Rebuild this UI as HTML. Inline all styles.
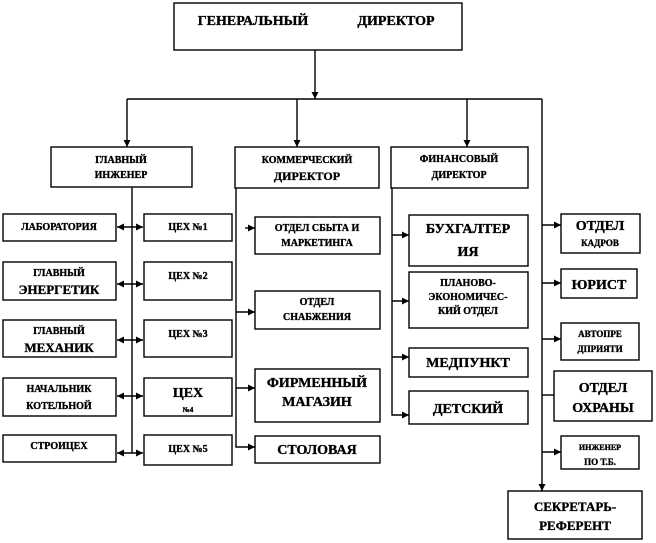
<!DOCTYPE html>
<html><head><meta charset="utf-8"><style>
body{margin:0;background:#fff}
svg{display:block}
text{font-family:"Liberation Serif","DejaVu Serif",serif;font-weight:bold;fill:#000;stroke:#000;stroke-width:0.35;text-anchor:middle}
rect{fill:#fff;stroke:#000;stroke-width:1.4}
line,polyline{stroke:#000;stroke-width:1.4;fill:none}
</style></head><body>
<svg width="656" height="543" viewBox="0 0 656 543" xmlns="http://www.w3.org/2000/svg">
<defs>
<marker id="a" viewBox="0 0 10 10" refX="10" refY="5" markerWidth="7" markerHeight="7" orient="auto-start-reverse" markerUnits="userSpaceOnUse"><path d="M0,0 L10,5 L0,10 z" fill="#000"/></marker>
</defs>
<rect x="174" y="3" width="288" height="47"/>
<text x="253" y="25" font-size="14">ГЕНЕРАЛЬНЫЙ</text>
<text x="396" y="25" font-size="14">ДИРЕКТОР</text>
<line x1="315" y1="50" x2="315" y2="99" marker-end="url(#a)"/>
<line x1="127" y1="99" x2="542" y2="99"/>
<line x1="127" y1="99" x2="127" y2="147" marker-end="url(#a)"/>
<line x1="297" y1="99" x2="297" y2="147" marker-end="url(#a)"/>
<line x1="467" y1="99" x2="467" y2="147" marker-end="url(#a)"/>
<line x1="542" y1="99" x2="542" y2="491" marker-end="url(#a)"/>

<rect x="51" y="147" width="141" height="40"/>
<text x="121" y="163" font-size="10">ГЛАВНЫЙ</text>
<text x="121" y="178" font-size="10">ИНЖЕНЕР</text>
<line x1="132" y1="187" x2="132" y2="453"/>
<rect x="3" y="214" width="113" height="27"/><text x="59" y="230" font-size="10">ЛАБОРАТОРИЯ</text>
<rect x="3" y="262" width="113" height="38"/><text x="59" y="276" font-size="10">ГЛАВНЫЙ</text><text x="59" y="294" font-size="13">ЭНЕРГЕТИК</text>
<rect x="3" y="320" width="113" height="37"/><text x="59" y="334" font-size="10">ГЛАВНЫЙ</text><text x="59" y="352" font-size="13">МЕХАНИК</text>
<rect x="3" y="378" width="113" height="38"/><text x="59" y="392" font-size="10">НАЧАЛЬНИК</text><text x="59" y="409" font-size="10">КОТЕЛЬНОЙ</text>
<rect x="3" y="435" width="113" height="27"/><text x="59" y="449" font-size="10">СТРОИЦЕХ</text>
<rect x="144" y="214" width="88" height="27"/><text x="188" y="230" font-size="10">ЦЕХ №1</text>
<rect x="144" y="262" width="88" height="38"/><text x="188" y="279" font-size="10">ЦЕХ  №2</text>
<rect x="144" y="320" width="88" height="37"/><text x="188" y="337" font-size="10">ЦЕХ №3</text>
<rect x="144" y="378" width="88" height="38"/><text x="188" y="397" font-size="14">ЦЕХ</text><text x="188" y="412" font-size="7">№4</text>
<rect x="144" y="435" width="88" height="30"/><text x="188" y="452" font-size="10">ЦЕХ  №5</text>
<line x1="117" y1="227" x2="143" y2="227" marker-start="url(#a)" marker-end="url(#a)"/>
<line x1="117" y1="284" x2="143" y2="284" marker-start="url(#a)" marker-end="url(#a)"/>
<line x1="117" y1="340" x2="143" y2="340" marker-start="url(#a)" marker-end="url(#a)"/>
<line x1="117" y1="396" x2="143" y2="396" marker-start="url(#a)" marker-end="url(#a)"/>
<line x1="117" y1="453" x2="143" y2="453" marker-start="url(#a)" marker-end="url(#a)"/>

<rect x="235" y="147" width="144" height="41"/>
<text x="307" y="163" font-size="10">КОММЕРЧЕСКИЙ</text>
<text x="307" y="180" font-size="12">ДИРЕКТОР</text>
<polyline points="236,188 236,447 255,447" marker-end="url(#a)"/>
<line x1="245" y1="228" x2="255" y2="228" marker-end="url(#a)"/>
<line x1="236" y1="312" x2="255" y2="312" marker-end="url(#a)"/>
<line x1="236" y1="388" x2="255" y2="388" marker-end="url(#a)"/>
<rect x="255" y="217" width="125" height="37"/><text x="317" y="231" font-size="10">ОТДЕЛ СБЫТА И</text><text x="317" y="246" font-size="10">МАРКЕТИНГА</text>
<rect x="255" y="291" width="125" height="38"/><text x="317" y="305" font-size="10">ОТДЕЛ</text><text x="317" y="320" font-size="10">СНАБЖЕНИЯ</text>
<rect x="255" y="369" width="125" height="53"/><text x="317" y="387" font-size="14">ФИРМЕННЫЙ</text><text x="317" y="406" font-size="14">МАГАЗИН</text>
<rect x="255" y="436" width="125" height="27"/><text x="317" y="454" font-size="14">СТОЛОВАЯ</text>

<rect x="391" y="147" width="137" height="41"/>
<text x="459" y="162" font-size="10">ФИНАНСОВЫЙ</text>
<text x="459" y="178" font-size="10">ДИРЕКТОР</text>
<polyline points="392,188 392,415 409,415" marker-end="url(#a)"/>
<line x1="392" y1="235" x2="409" y2="235" marker-end="url(#a)"/>
<line x1="392" y1="301" x2="409" y2="301" marker-end="url(#a)"/>
<line x1="392" y1="357" x2="409" y2="357" marker-end="url(#a)"/>
<rect x="409" y="215" width="119" height="51"/><text x="468" y="233" font-size="14">БУХГАЛТЕР</text><text x="468" y="256" font-size="14">ИЯ</text>
<rect x="409" y="272" width="119" height="56"/><text x="468" y="286" font-size="10">ПЛАНОВО-</text><text x="468" y="300" font-size="10">ЭКОНОМИЧЕС-</text><text x="468" y="314" font-size="10">КИЙ ОТДЕЛ</text>
<rect x="409" y="348" width="119" height="29"/><text x="468" y="367" font-size="14">МЕДПУНКТ</text>
<rect x="409" y="391" width="119" height="33"/><text x="468" y="413" font-size="14">ДЕТСКИЙ</text>

<line x1="542" y1="225" x2="561" y2="225" marker-end="url(#a)"/>
<line x1="542" y1="283" x2="561" y2="283" marker-end="url(#a)"/>
<line x1="542" y1="339" x2="561" y2="339" marker-end="url(#a)"/>
<line x1="542" y1="395" x2="554" y2="395"/>
<line x1="542" y1="452" x2="561" y2="452" marker-end="url(#a)"/>
<rect x="561" y="214" width="79" height="39"/><text x="600" y="230" font-size="14">ОТДЕЛ</text><text x="600" y="246" font-size="9">КАДРОВ</text>
<rect x="561" y="269" width="76" height="29"/><text x="599" y="289" font-size="14">ЮРИСТ</text>
<rect x="561" y="323" width="78" height="37"/><text x="600" y="337" font-size="9">АВТОПРЕ</text><text x="600" y="352" font-size="9">ДПРИЯТИ</text>
<rect x="554" y="371" width="98" height="50"/><text x="603" y="392" font-size="14">ОТДЕЛ</text><text x="603" y="412" font-size="14">ОХРАНЫ</text>
<rect x="561" y="436" width="78" height="33"/><text x="600" y="450" font-size="8">ИНЖЕНЕР</text><text x="600" y="465" font-size="9">ПО Т.Б.</text>
<rect x="508" y="491" width="134" height="48"/><text x="575" y="511" font-size="13">СЕКРЕТАРЬ-</text><text x="575" y="530" font-size="13">РЕФЕРЕНТ</text>
</svg>
</body></html>
